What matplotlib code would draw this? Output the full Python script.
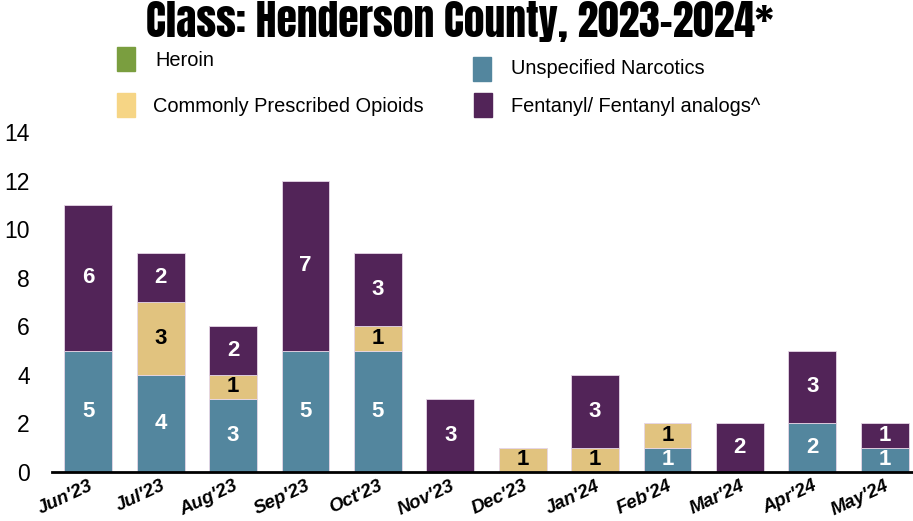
import matplotlib
matplotlib.use('Agg')
import matplotlib.pyplot as plt
from matplotlib.patches import Rectangle
import numpy as np

MONTHS = ["Jun'23", "Jul'23", "Aug'23", "Sep'23", "Oct'23", "Nov'23",
          "Dec'23", "Jan'24", "Feb'24", "Mar'24", "Apr'24", "May'24"]
HEROIN = [0, 0, 0, 0, 0, 0, 0, 0, 0, 0, 0, 0]
UNSPECIFIED = [5, 4, 3, 5, 5, 0, 0, 0, 1, 0, 2, 1]
COMMON = [0, 3, 1, 0, 1, 0, 1, 1, 1, 0, 0, 0]
FENTANYL = [6, 2, 2, 7, 3, 3, 0, 3, 0, 2, 3, 1]

GREEN = '#7A9E3F'
BLUE = '#53869E'
TAN = '#E1C37F'
TAN_LEG = '#F6D585'
PURPLE = '#522458'

TITLE_FONT = ['Anton', 'DejaVu Sans']
ARIAL = ['Liberation Sans', 'DejaVu Sans']

fig = plt.figure(figsize=(9.13, 5.21), dpi=100)
ax = fig.add_axes([52 / 913, (521 - 472) / 521, 861 / 913, 340 / 521])

x = np.arange(len(MONTHS))
w = 0.66
series = [(HEROIN, GREEN, 'white'), (UNSPECIFIED, BLUE, 'white'),
          (COMMON, TAN, 'black'), (FENTANYL, PURPLE, 'white')]
bottom = np.zeros(len(MONTHS))
for vals, col, tcol in series:
    vals = np.array(vals, dtype=float)
    ax.bar(x, vals, w, bottom=bottom, color=col,
           edgecolor='#e6d6e6', linewidth=0.6)
    for xi, b, v in zip(x, bottom, vals):
        if v > 0:
            ax.text(xi, b + v / 2, '%d' % v, ha='center', va='center',
                    color=tcol, fontsize=16, fontweight='bold', family=ARIAL)
    bottom += vals

ax.set_ylim(0, 14)
ax.set_xlim(-0.5, 11.39)
ax.set_yticks(range(0, 15, 2))
ax.set_yticklabels([str(v) for v in range(0, 15, 2)], fontsize=16.5,
                   family=ARIAL)
ax.set_xticks(x)
ax.set_xticklabels(MONTHS, rotation=25, ha='right', rotation_mode='anchor',
                   fontsize=13.5, fontweight='bold', fontstyle='italic',
                   family=ARIAL)
ax.tick_params(axis='y', length=0, pad=16)
ax.tick_params(axis='x', length=0, pad=4)
for s in ['top', 'right', 'left']:
    ax.spines[s].set_visible(False)
ax.spines['bottom'].set_linewidth(2)
ax.spines['bottom'].set_color('black')

fig.text(460 / 913, 1 - 21 / 521, 'Class: Henderson County, 2023-2024*',
         ha='center', va='center', fontsize=30, family=TITLE_FONT)

# legend
legend = [('Heroin', GREEN, 117, 47, 155, 60),
          ('Commonly Prescribed Opioids', TAN_LEG, 117, 93, 153, 106),
          ('Unspecified Narcotics', BLUE, 473, 57, 511, 69),
          ('Fentanyl/ Fentanyl analogs^', PURPLE, 474, 93, 511, 107)]
for label, col, rx, ry, tx, ty in legend:
    fig.patches.append(Rectangle((rx / 913, 1 - (ry + 24) / 521), 18 / 913,
                                 24 / 521, transform=fig.transFigure,
                                 color=col))
    fig.text(tx / 913, 1 - ty / 521, label, ha='left', va='center',
             fontsize=14.4, family=ARIAL)

fig.savefig('out.png', dpi=100)
